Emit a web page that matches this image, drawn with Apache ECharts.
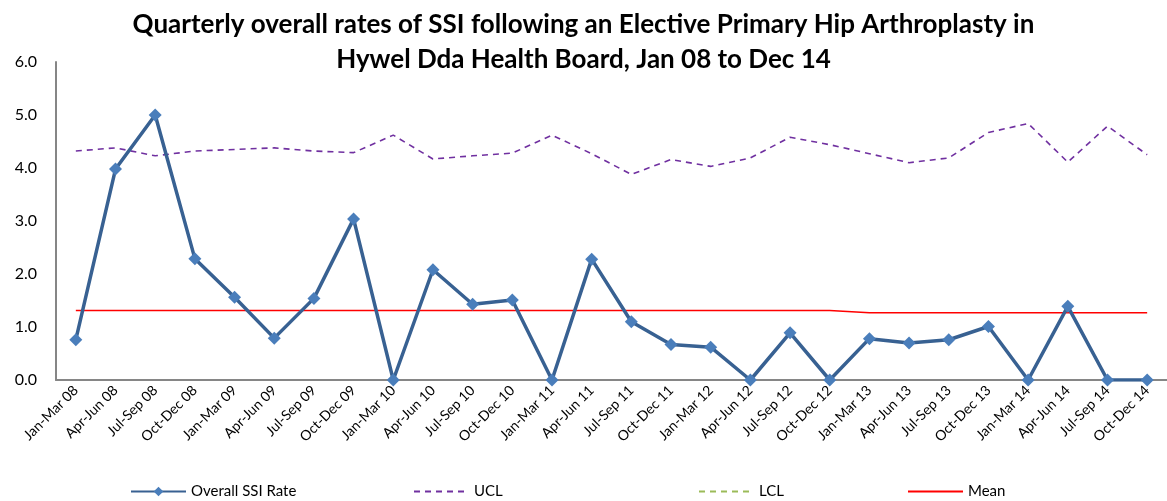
<!DOCTYPE html>
<html>
<head>
<meta charset="utf-8">
<script src="https://cdn.jsdelivr.net/npm/echarts@6/dist/echarts.min.js"></script>
<style>
  html, body { margin: 0; padding: 0; background: #fff; }
  #chart { width: 1167px; height: 501px; }
</style>
</head>
<body>
<div id="chart"></div>
<script>
// quarters Jan 08 - Dec 14
const quarters = [
    'Jan-Mar 08', 'Apr-Jun 08', 'Jul-Sep 08', 'Oct-Dec 08',
    'Jan-Mar 09', 'Apr-Jun 09', 'Jul-Sep 09', 'Oct-Dec 09',
    'Jan-Mar 10', 'Apr-Jun 10', 'Jul-Sep 10', 'Oct-Dec 10',
    'Jan-Mar 11', 'Apr-Jun 11', 'Jul-Sep 11', 'Oct-Dec 11',
    'Jan-Mar 12', 'Apr-Jun 12', 'Jul-Sep 12', 'Oct-Dec 12',
    'Jan-Mar 13', 'Apr-Jun 13', 'Jul-Sep 13', 'Oct-Dec 13',
    'Jan-Mar 14', 'Apr-Jun 14', 'Jul-Sep 14', 'Oct-Dec 14'
]
const ssiRate = [
    0.76, 3.98, 5.0, 2.29, 1.56, 0.79, 1.54, 3.04,
    0, 2.08, 1.43, 1.51, 0, 2.28, 1.10, 0.67,
    0.62, 0, 0.89, 0, 0.78, 0.70, 0.76, 1.01,
    0, 1.39, 0, 0
]
const ucl = [
    4.32, 4.38, 4.23, 4.32, 4.35, 4.38, 4.32, 4.29,
    4.62, 4.17, 4.23, 4.28, 4.62, 4.27, 3.88, 4.16,
    4.03, 4.19, 4.58, 4.44, 4.27, 4.10, 4.19, 4.67,
    4.84, 4.11, 4.79, 4.25
]
// LCL sits below zero, so nothing of it shows on the plot
const lcl = quarters.map(( ) => null)
const mean = [
    1.31, 1.31, 1.31, 1.31, 1.31, 1.31, 1.31, 1.31,
    1.31, 1.31, 1.31, 1.31, 1.31, 1.31, 1.31, 1.31,
    1.31, 1.31, 1.31, 1.31, 1.27, 1.27, 1.27, 1.27,
    1.27, 1.27, 1.27, 1.27
]

const font = 'Lato, "Open Sans", sans-serif'
const axisGrey = '#868686'

const legendBase = {
    top: 479,
    itemWidth: 55,
    itemHeight: 12,
    textStyle: { fontFamily: font, fontSize: 15, color: '#000' }
}
// plain lines in the legend, no marker dot
const noDot = { color: 'transparent', borderWidth: 0 }

const option = {
    animation: false,
    title: {
        text: 'Quarterly overall rates of SSI following an Elective Primary Hip Arthroplasty in\nHywel Dda Health Board, Jan 08 to Dec 14',
        left: 'center',
        top: 2,
        textStyle: {
            fontFamily: font,
            fontWeight: 'bold',
            fontSize: 26,
            lineHeight: 35,
            color: '#000'
        }
    },
    legend: [
        { ...legendBase, left: 125, data: [ 'Overall SSI Rate' ] },
        { ...legendBase, left: 408, itemStyle: noDot, data: [ 'UCL' ] },
        { ...legendBase, left: 693, itemStyle: noDot, data: [ 'LCL' ] },
        { ...legendBase, left: 902, itemStyle: noDot, data: [ 'Mean' ] }
    ],
    grid: {
        left: 56,
        top: 62,
        width: 1117,
        height: 318
    },
    xAxis: {
        type: 'category',
        data: quarters,
        boundaryGap: true,
        axisLine: { lineStyle: { color: axisGrey, width: 2 } },
        axisTick: { show: false },
        axisLabel: {
            rotate: 45,
            interval: 0,
            margin: 8,
            fontFamily: font,
            fontSize: 14,
            color: '#000'
        },
        splitLine: { show: false }
    },
    yAxis: {
        type: 'value',
        min: 0,
        max: 6,
        interval: 1,
        axisLine: { show: true, lineStyle: { color: axisGrey, width: 2 } },
        axisTick: { show: false },
        splitLine: { show: false },
        axisLabel: {
            margin: 19,
            fontFamily: font,
            fontSize: 16,
            color: '#000',
            formatter: v => v.toFixed( 1 )
        }
    },
    series: [
        {
            name: 'UCL',
            type: 'line',
            data: ucl,
            symbol: 'none',
            lineStyle: { color: '#7030A0', width: 1.6, type: [ 6, 5 ] },
            itemStyle: { color: '#7030A0' },
            z: 2
        },
        {
            name: 'LCL',
            type: 'line',
            data: lcl,
            symbol: 'none',
            lineStyle: { color: '#9BBB59', width: 1.6, type: [ 6, 5 ] },
            itemStyle: { color: '#9BBB59' },
            z: 2
        },
        {
            name: 'Mean',
            type: 'line',
            data: mean,
            symbol: 'none',
            lineStyle: { color: '#FF0000', width: 1.6 },
            itemStyle: { color: '#FF0000' },
            z: 3
        },
        {
            name: 'Overall SSI Rate',
            type: 'line',
            data: ssiRate,
            symbol: 'diamond',
            symbolSize: 13,
            lineStyle: { color: '#386192', width: 3.5 },
            itemStyle: { color: '#4A7EBB' },
            z: 4
        }
    ]
}

const chart = echarts.init( document.getElementById( 'chart' ) )
chart.setOption( option )
</script>
</body>
</html>
